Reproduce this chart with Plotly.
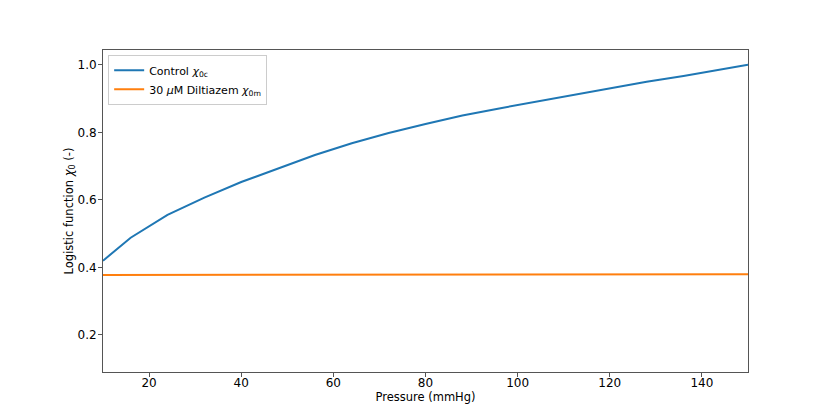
import plotly.graph_objects as go

pressure = [10, 16, 24, 32, 40, 48, 56, 64, 72, 80, 88, 96, 104, 112, 120, 128, 136, 144, 150]
control_chi = [0.420, 0.488, 0.556, 0.607, 0.653, 0.694, 0.733, 0.768, 0.798, 0.825,
               0.850, 0.871, 0.891, 0.912, 0.932, 0.950, 0.967, 0.985, 1.000]
diltiazem_chi = [0.378, 0.378, 0.378, 0.3785, 0.3785, 0.3785, 0.379, 0.379, 0.379, 0.379,
                 0.3795, 0.3795, 0.3795, 0.3795, 0.380, 0.380, 0.380, 0.380, 0.380]

x_ticks = [20, 40, 60, 80, 100, 120, 140]
y_ticks = [0.2, 0.4, 0.6, 0.8, 1.0]

fig = go.Figure()
fig.add_trace(go.Scatter(
    x=pressure, y=control_chi, mode='lines',
    name='Control <i>χ</i><sub>0c</sub>',
    line=dict(color='#1f77b4', width=2)
))
fig.add_trace(go.Scatter(
    x=pressure, y=diltiazem_chi, mode='lines',
    name='30 <i>μ</i>M Diltiazem <i>χ</i><sub>0m</sub>',
    line=dict(color='#ff7f0e', width=2)
))

axis_common = dict(
    showline=True, linecolor='#555', linewidth=1, mirror=True,
    showgrid=False, zeroline=False,
    ticks='outside', ticklen=4, tickcolor='#555',
    tickfont=dict(size=12, color='black')
)

fig.update_layout(
    xaxis=dict(
        range=[10, 150], tickvals=x_ticks, ticklabelstandoff=-4,
        title=dict(text='Pressure (mmHg)', font=dict(size=11.5), standoff=0),
        **axis_common
    ),
    yaxis=dict(
        range=[0.0904, 1.044], tickvals=y_ticks, tickformat='.1f', ticklabelstandoff=-1,
        title=dict(text='Logistic function <i>χ</i><sub>0</sub> (-)', font=dict(size=11.5), standoff=0),
        **axis_common
    ),
    legend=dict(
        x=0.008, y=0.985, xanchor='left', yanchor='top', itemwidth=30,
        bgcolor='rgba(255,255,255,0.8)', bordercolor='#ccc', borderwidth=1,
        font=dict(size=11, color='black')
    ),
    font=dict(family='DejaVu Sans', size=12, color='black'),
    plot_bgcolor='white', paper_bgcolor='white',
    margin=dict(l=95, r=83, t=42, b=47),
    width=823, height=411
)

fig.write_html('out.html')
